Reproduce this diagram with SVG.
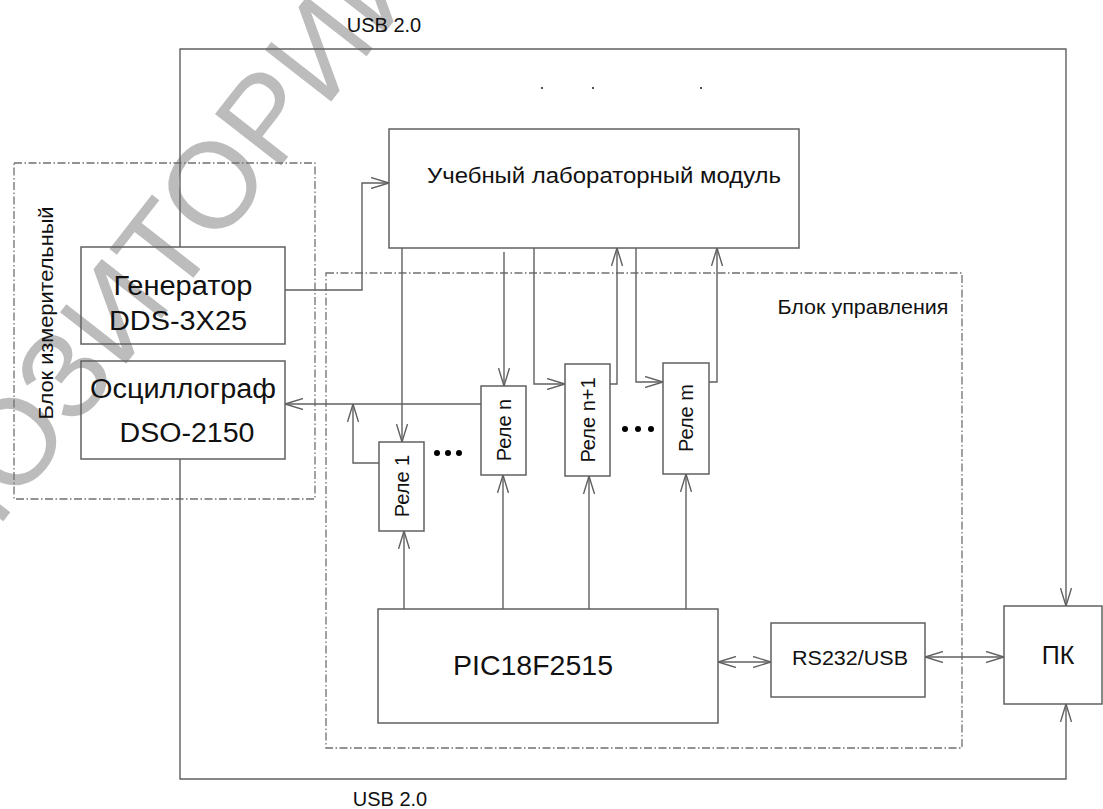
<svg xmlns="http://www.w3.org/2000/svg" width="1103" height="809" viewBox="0 0 1103 809">
<style>
.box{fill:none;stroke:#606060;stroke-width:1.5}
.grp{fill:none;stroke:#707070;stroke-width:1.3;stroke-dasharray:8 2.5 1.5 2.5}
.ln{fill:none;stroke:#606060;stroke-width:1.4}
.arr{marker-end:url(#ah)}
.dbl{marker-end:url(#ah);marker-start:url(#ah)}
text{font-family:"Liberation Sans",Arial,sans-serif;fill:#111}
.dot{fill:#000}
</style>
<defs>
<marker id="ah" markerUnits="userSpaceOnUse" viewBox="0 0 18 12" markerWidth="18" markerHeight="12" refX="18" refY="6" orient="auto-start-reverse">
<path d="M0,0.5 L18,6 L0,11.5" fill="none" stroke="#606060" stroke-width="1.4"/>
</marker>
</defs>

<rect x="0" y="0" width="1103" height="809" fill="#fff"/>

<g id="watermark" opacity="0.7">
<text transform="translate(-138,702) rotate(-52)" font-size="122" style="fill:#a0a0a0">РЕПОЗИТОРИЙ БГУИР</text>
</g>

<g id="group-measure">
<rect class="grp" x="14" y="163" width="301" height="336"/>
<text transform="translate(53,313) rotate(-90)" font-size="21" text-anchor="middle" textLength="213" lengthAdjust="spacingAndGlyphs">Блок измерительный</text>
</g>
<g id="group-control">
<rect class="grp" x="326" y="273" width="636" height="475"/>
<text x="863" y="314" font-size="21" text-anchor="middle" textLength="171" lengthAdjust="spacingAndGlyphs">Блок управления</text>
</g>

<g id="connectors">
<polyline class="ln arr" points="180,247 180,49 1066,49 1066,606"/>
<polyline class="ln arr" points="180,459 180,779 1066,779 1066,704"/>
<polyline class="ln arr" points="285,290 362,290 362,183 389,183"/>
<line class="ln arr" x1="402" y1="248" x2="402" y2="442"/>
<line class="ln arr" x1="504" y1="252" x2="504" y2="386"/>
<polyline class="ln arr" points="534,248 534,384 565,384"/>
<polyline class="ln arr" points="610,384 617,384 617,248"/>
<polyline class="ln arr" points="636,248 636,382 663,382"/>
<polyline class="ln arr" points="709,382 717,382 717,248"/>
<line class="ln arr" x1="481" y1="404" x2="285" y2="404"/>
<polyline class="ln arr" points="379,463 353,463 353,404"/>
<line class="ln arr" x1="404" y1="609" x2="404" y2="531"/>
<line class="ln arr" x1="503" y1="609" x2="503" y2="475"/>
<line class="ln arr" x1="589" y1="609" x2="589" y2="476"/>
<line class="ln arr" x1="686" y1="609" x2="686" y2="474"/>
<line class="ln dbl" x1="718" y1="662" x2="771" y2="662"/>
<line class="ln dbl" x1="925" y1="657" x2="1004" y2="657"/>
</g>

<g id="labels">
<text x="384" y="32" font-size="20" text-anchor="middle">USB 2.0</text>
<text x="390" y="806" font-size="20" text-anchor="middle">USB 2.0</text>
<circle class="dot" cx="542" cy="88" r="0.9"/>
<circle class="dot" cx="593" cy="88" r="0.9"/>
<circle class="dot" cx="701" cy="88" r="0.9"/>
<circle class="dot" cx="437" cy="453" r="3"/>
<circle class="dot" cx="448" cy="453" r="3"/>
<circle class="dot" cx="459" cy="453" r="3"/>
<circle class="dot" cx="625" cy="429" r="3"/>
<circle class="dot" cx="638" cy="429" r="3"/>
<circle class="dot" cx="651" cy="429" r="3"/>
</g>

<g id="module">
<rect class="box" x="389" y="129" width="410" height="119"/>
<text x="604" y="183" font-size="22" text-anchor="middle" textLength="354" lengthAdjust="spacingAndGlyphs">Учебный лабораторный модуль</text>
</g>
<g id="generator">
<rect class="box" x="81" y="247" width="204" height="97"/>
<text x="183" y="295" font-size="27" text-anchor="middle" textLength="139" lengthAdjust="spacingAndGlyphs">Генератор</text>
<text x="178" y="330" font-size="27" text-anchor="middle" textLength="138" lengthAdjust="spacingAndGlyphs">DDS-3X25</text>
</g>
<g id="oscillograph">
<rect class="box" x="81" y="361" width="204" height="98"/>
<text x="183" y="398" font-size="27" text-anchor="middle" textLength="186" lengthAdjust="spacingAndGlyphs">Осциллограф</text>
<text x="187" y="442" font-size="27" text-anchor="middle" textLength="135" lengthAdjust="spacingAndGlyphs">DSO-2150</text>
</g>
<g id="relay1">
<rect class="box" x="379" y="442" width="45" height="89"/>
<text transform="translate(409,486) rotate(-90)" font-size="20" text-anchor="middle">Реле 1</text>
</g>
<g id="relayn">
<rect class="box" x="481" y="386" width="45" height="89"/>
<text transform="translate(511,430) rotate(-90)" font-size="20" text-anchor="middle">Реле n</text>
</g>
<g id="relayn1">
<rect class="box" x="565" y="364" width="45" height="112"/>
<text transform="translate(595,420) rotate(-90)" font-size="20" text-anchor="middle">Реле n+1</text>
</g>
<g id="relaym">
<rect class="box" x="663" y="363" width="46" height="111"/>
<text transform="translate(693,418) rotate(-90)" font-size="20" text-anchor="middle">Реле m</text>
</g>
<g id="pic">
<rect class="box" x="378" y="609" width="340" height="114"/>
<text x="533" y="675" font-size="28" text-anchor="middle" textLength="160" lengthAdjust="spacingAndGlyphs">PIC18F2515</text>
</g>
<g id="rs232">
<rect class="box" x="771" y="623" width="154" height="74"/>
<text x="850" y="665" font-size="20" text-anchor="middle" textLength="116" lengthAdjust="spacingAndGlyphs">RS232/USB</text>
</g>
<g id="pc">
<rect class="box" x="1004" y="606" width="98" height="98"/>
<text x="1058" y="664" font-size="25" text-anchor="middle">ПК</text>
</g>
</svg>
